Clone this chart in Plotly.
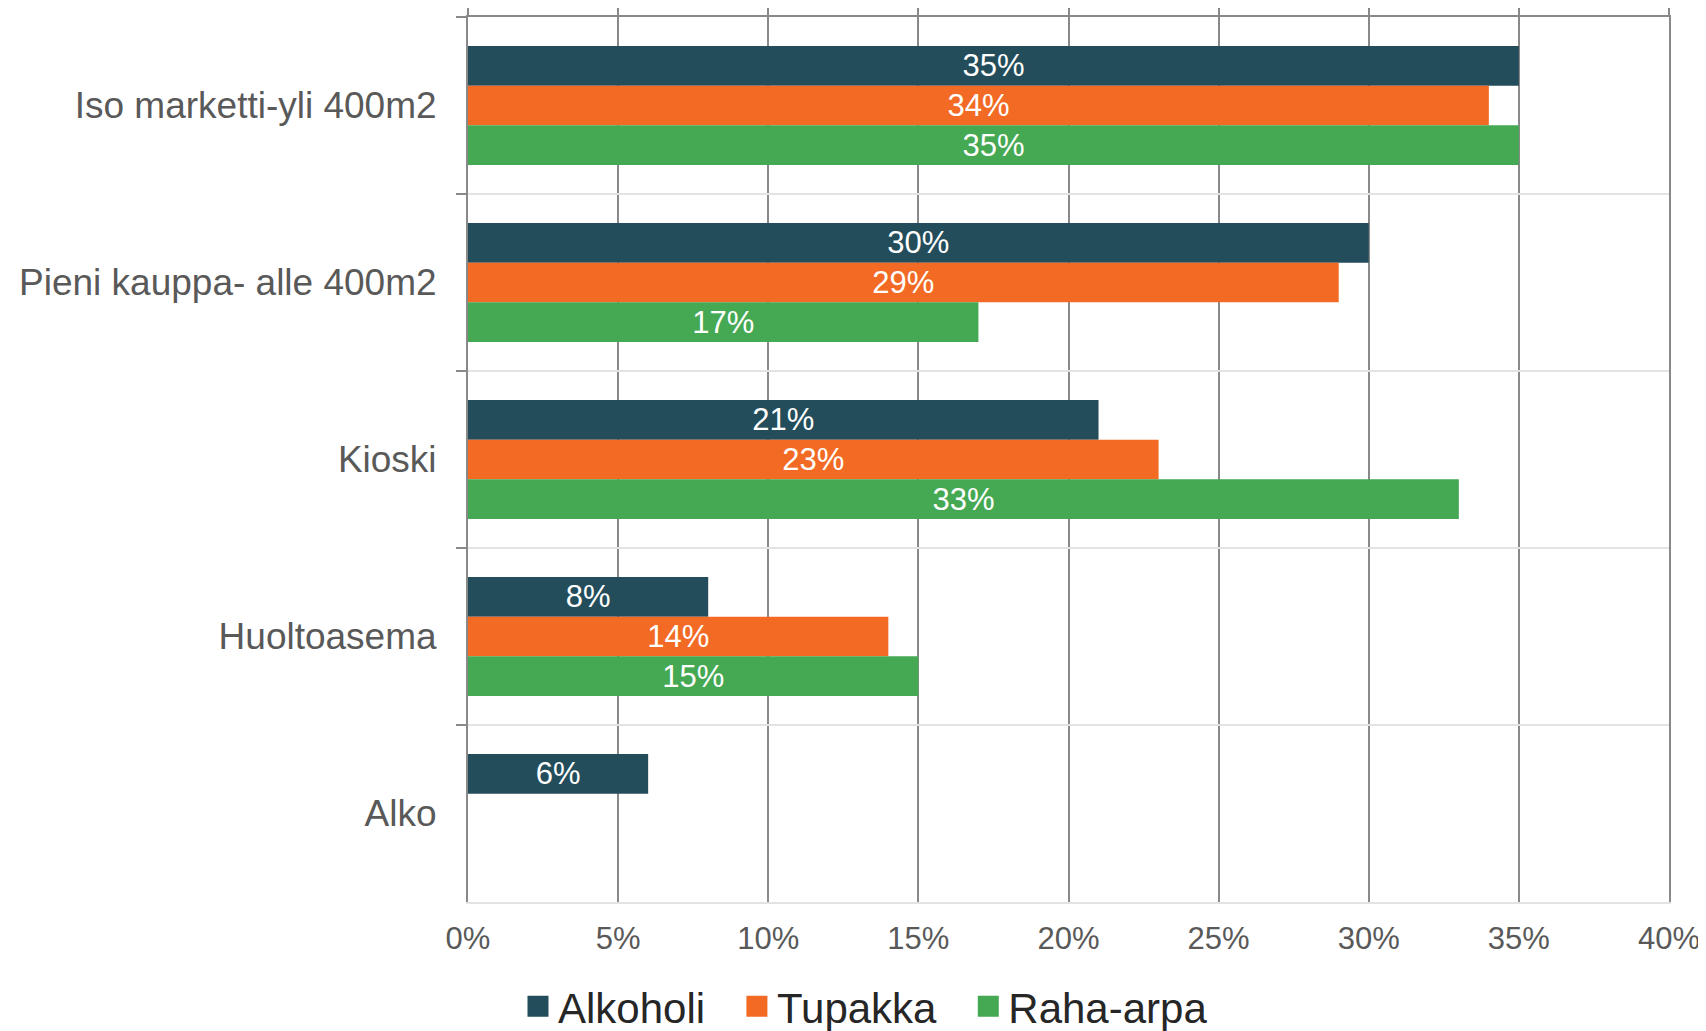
import plotly.graph_objects as go

categories = ["Iso marketti-yli 400m2", "Pieni kauppa- alle 400m2", "Kioski", "Huoltoasema", "Alko"]
series_names = ["Alkoholi", "Tupakka", "Raha-arpa"]
alkoholi = [35, 30, 21, 8, 6]
tupakka = [34, 29, 23, 14, None]
raha_arpa = [35, 17, 33, 15, None]
x_ticks = [0, 5, 10, 15, 20, 25, 30, 35, 40]
x_tick_labels = ["0%", "5%", "10%", "15%", "20%", "25%", "30%", "35%", "40%"]

colors = ["#234D5B", "#F26A24", "#45A853"]
FONT = "Liberation Sans, Arial, sans-serif"

fig = go.Figure()
for name, vals, col in zip(series_names, [alkoholi, tupakka, raha_arpa], colors):
    fig.add_trace(go.Bar(
        y=categories, x=vals, name=name, orientation="h",
        marker=dict(color=col, line=dict(width=0)),
        text=[f"{v}%" if v is not None else "" for v in vals],
        textposition="inside", insidetextanchor="middle", textangle=0,
        textfont=dict(color="white", size=31, family=FONT),
        constraintext="none", cliponaxis=False, showlegend=False,
        legendgroup=name,
    ))

# legend proxies (larger square swatches than bar legend symbols)
pad = "\u00a0\u00a0\u200a"
for i, (name, col) in enumerate(zip(series_names, colors)):
    fig.add_trace(go.Scatter(
        x=[None], y=[None], mode="markers",
        name=name + (pad if i < len(series_names) - 1 else ""), legendgroup=name,
        marker=dict(symbol="square", size=16, color=col, line=dict(color=col, width=5)),
        hoverinfo="skip",
    ))

# invisible trace to anchor the top axis
fig.add_trace(go.Scatter(x=[None], y=[None], xaxis="x2", yaxis="y", showlegend=False, hoverinfo="skip"))

fig.update_layout(
    width=1698, height=1023,
    paper_bgcolor="white", plot_bgcolor="white",
    margin=dict(l=460, r=37, t=9, b=129, autoexpand=False),
    barmode="group", bargap=0.328, bargroupgap=0,
    font=dict(family=FONT, color="#595959"),
    xaxis=dict(
        range=[0, 40], tickvals=x_ticks, ticktext=x_tick_labels,
        showgrid=True, gridcolor="#898989", gridwidth=2,
        zeroline=False, showline=True, linecolor="#e3e3e3", linewidth=2,
        ticks="", tickfont=dict(size=31, color="#595959", family=FONT),
        ticklabelstandoff=8, ticklabeloverflow="allow", fixedrange=True,
    ),
    xaxis2=dict(
        overlaying="x", side="top", range=[0, 40], tickvals=x_ticks,
        showticklabels=False, showgrid=False, zeroline=False,
        showline=True, linecolor="#898989", linewidth=2,
        ticks="outside", ticklen=10, tickwidth=2, tickcolor="#898989",
    ),
    yaxis=dict(
        autorange="reversed", tickson="boundaries",
        showgrid=True, gridcolor="#e3e3e3", gridwidth=2,
        showline=True, linecolor="#898989", linewidth=2, mirror=True,
        ticks="outside", ticklen=10, tickwidth=2, tickcolor="#898989",
        tickfont=dict(size=37, color="#595959", family=FONT),
        ticklabelstandoff=22, zeroline=False,
    ),
    legend=dict(
        orientation="h", xref="container", yref="container",
        x=0.505, xanchor="center", y=0.024, yanchor="middle",
        font=dict(size=42, color="#262626", family=FONT),
        itemsizing="trace", traceorder="normal",
    ),
    showlegend=True,
)

fig.write_html("out.html")
